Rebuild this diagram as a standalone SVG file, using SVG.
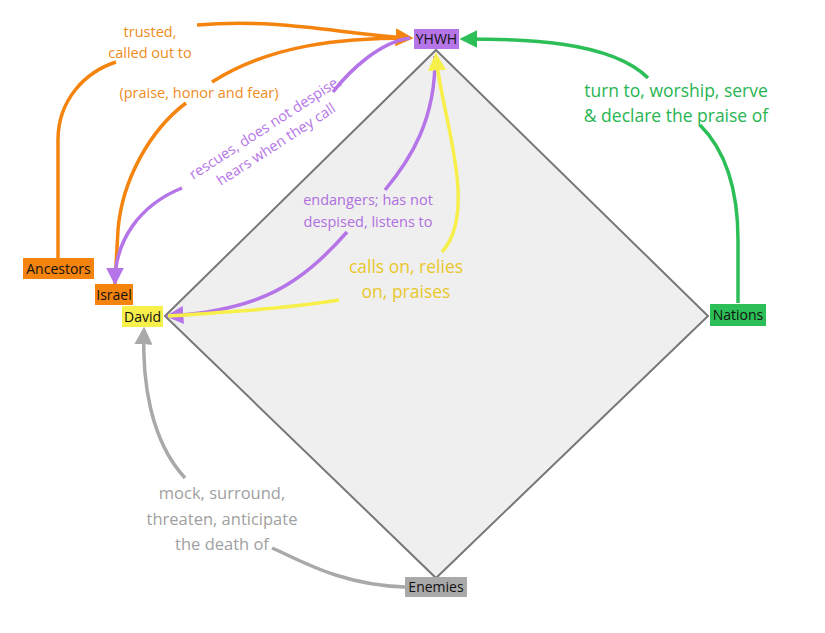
<svg xmlns="http://www.w3.org/2000/svg" width="825" height="633" viewBox="0 0 825 633">
<style>
text{font-family:"Open Sans","Noto Sans",sans-serif;}
.n{font-size:14px;fill:#111;text-anchor:middle}
.l{font-size:14.5px;text-anchor:middle}
.b{font-size:17.5px}
.m{font-size:16.5px}
.c{fill:none;stroke-width:3.5}
.o{stroke:#f5840f}.p{stroke:#b574e8}.y{stroke:#f7ef4a}.g{stroke:#2dbf57}.r{stroke:#a9a9a9}
</style>
<defs>
<marker id="ap" viewBox="0 0 10 10" refX="8" refY="5" markerWidth="18" markerHeight="18" orient="auto" markerUnits="userSpaceOnUse"><path d="M0,0 L10,5 L0,10 Z" fill="#b574e8"/></marker>
<marker id="ay" viewBox="0 0 10 10" refX="8" refY="5" markerWidth="18" markerHeight="18" orient="auto" markerUnits="userSpaceOnUse"><path d="M0,0 L10,5 L0,10 Z" fill="#f7ef4a"/></marker>
<marker id="ag" viewBox="0 0 10 10" refX="8" refY="5" markerWidth="18" markerHeight="18" orient="auto" markerUnits="userSpaceOnUse"><path d="M0,0 L10,5 L0,10 Z" fill="#2dbf57"/></marker>
<marker id="ar" viewBox="0 0 10 10" refX="8" refY="5" markerWidth="18" markerHeight="18" orient="auto" markerUnits="userSpaceOnUse"><path d="M0,0 L10,5 L0,10 Z" fill="#a9a9a9"/></marker>
<marker id="ao2" viewBox="0 0 10 10" refX="8" refY="5" markerWidth="18" markerHeight="18" orient="auto" markerUnits="userSpaceOnUse"><path d="M0,0 L10,5 L0,10 Z" fill="#f5840f"/></marker>
</defs>
<rect width="825" height="633" fill="#fff"/>
<polygon id="diamond" points="436,50 708,316 436,578 165,316" fill="#efefef" stroke="#777" stroke-width="2"/>
<g id="connectors">
<path class="c o" d="M58,258 L58,140 C58,100 85,72 116,62"/>
<path class="c o" d="M197,25 C280,18 340,34 410,38" marker-end="url(#ao2)"/>
<path class="c o" d="M115,284 L118,230 C122,180 150,130 186,103"/>
<path class="c o" d="M212,82 C270,45 340,38 410,38"/>
<path class="c p" d="M410,38 C380,42 350,70 333,92"/>
<path class="c p" d="M182,188 C140,205 115,240 115,282" marker-end="url(#ap)"/>
<path class="c p" d="M435,56 C436,120 410,160 385,190"/>
<path class="c p" d="M347,232 C300,285 260,310 169,316" marker-end="url(#ap)"/>
<path class="c y" d="M168,316 C230,312 290,308 339,300"/>
<path class="c y" d="M442,252 C480,210 440,110 436,56" marker-end="url(#ay)"/>
<path class="c g" d="M738,303 L738,240 C738,190 725,150 700,125"/>
<path class="c g" d="M648,78 C610,40 520,39 463,39" marker-end="url(#ag)"/>
<path class="c r" d="M405,587 C340,585 300,560 272,548"/>
<path class="c r" d="M185,478 C150,440 142,380 144,330" marker-end="url(#ar)"/>
</g>
<g id="labels">
<text class="l" fill="#ee8c1c" x="150" y="37">trusted,</text>
<text class="l" fill="#ee8c1c" x="150" y="58">called out to</text>
<text class="l" fill="#ee8c1c" x="199" y="98">(praise, honor and fear)</text>
<g transform="translate(270,135) rotate(-33)"><text class="l" fill="#b574e8" x="0" y="-4">rescues, does not despise,</text><text class="l" fill="#b574e8" x="0" y="16">hears when they call</text></g>
<text class="l" fill="#b070e0" x="368" y="205">endangers; has not</text>
<text class="l" fill="#b070e0" x="368" y="227">despised, listens to</text>
<text class="l b" fill="#e9c72c" x="406" y="273">calls on, relies</text>
<text class="l b" fill="#e9c72c" x="406" y="298">on, praises</text>
<text class="l b" fill="#27b552" x="676" y="97">turn to, worship, serve</text>
<text class="l b" fill="#27b552" x="676" y="122">&amp; declare the praise of</text>
<text class="l m" fill="#a0a0a0" x="222" y="499">mock, surround,</text>
<text class="l m" fill="#a0a0a0" x="222" y="525">threaten, anticipate</text>
<text class="l m" fill="#a0a0a0" x="222" y="550">the death of</text>
</g>
<g id="YHWH"><rect x="414" y="29" width="45" height="20" fill="#b574e8"/><text class="n" x="436.5" y="44">YHWH</text></g>
<g id="Nations"><rect x="710" y="304" width="56" height="22" fill="#2dbf57"/><text class="n" x="738" y="320">Nations</text></g>
<g id="Enemies"><rect x="405" y="577" width="62" height="20" fill="#a9a9a9"/><text class="n" x="436" y="592">Enemies</text></g>
<g id="Ancestors"><rect x="23" y="258" width="71" height="21" fill="#f5840f"/><text class="n" x="58.5" y="274">Ancestors</text></g>
<g id="Israel"><rect x="95" y="284" width="38" height="21" fill="#f5840f"/><text class="n" x="114" y="300">Israel</text></g>
<g id="David"><rect x="122" y="306" width="41" height="21" fill="#f7ef4a"/><text class="n" x="142.5" y="322">David</text></g>
</svg>
